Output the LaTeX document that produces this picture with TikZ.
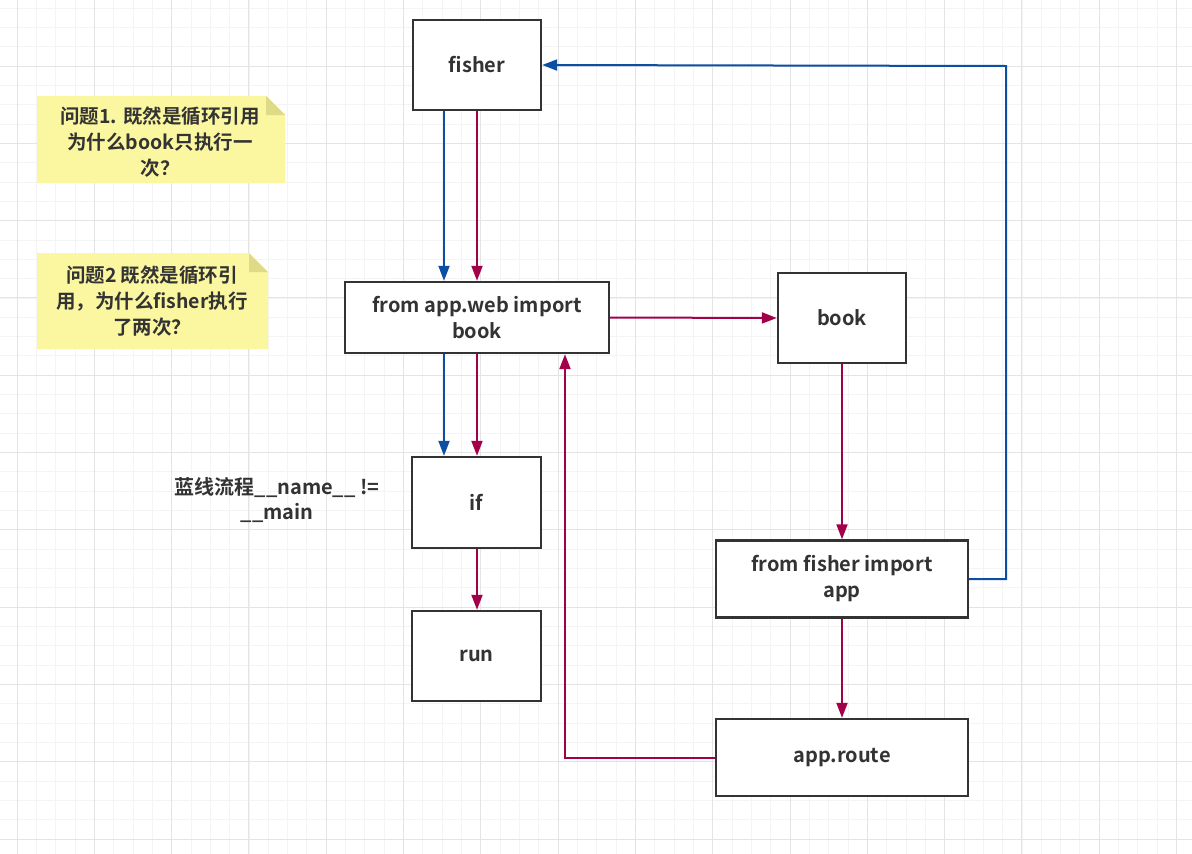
\documentclass[tikz,border=0pt]{standalone}
\usepackage{fontspec}
\setmainfont{Noto Sans CJK SC}[BoldFont={* Bold}]
\usetikzlibrary{arrows.meta}
\definecolor{gridminor}{HTML}{F4F4F4}
\definecolor{gridmajor}{HTML}{E4E4E4}
\definecolor{lineblue}{HTML}{0B4EA2}
\definecolor{linered}{HTML}{A3004A}
\definecolor{notefill}{HTML}{FBF7A0}
\definecolor{notefold}{HTML}{DEDA88}
\definecolor{txt}{HTML}{333333}
\definecolor{boxline}{HTML}{333333}
\tikzset{
  box/.style={draw=boxline, line width=2.4pt, fill=white, inner sep=0pt, align=center,
    text=txt, font=\fontsize{20}{26}\selectfont\bfseries},
  bluearr/.style={draw=lineblue, line width=2pt, -{Triangle[length=15pt,width=11pt]}},
  redarr/.style={draw=linered, line width=2pt, -{Triangle[length=15pt,width=11pt]}},
  notetext/.style={text=txt, align=center, font=\fontsize{19.5}{26}\selectfont\bfseries},
  minorgrid/.style={draw=gridminor, line width=0.8pt},
  majorgrid/.style={draw=gridmajor, line width=1pt}
}
\begin{document}
\begin{tikzpicture}[x=1pt,y=-1pt]
\useasboundingbox (0,0) rectangle (1192,854);
\fill[white] (0,0) rectangle (1192,854);
\begin{scope}
\clip (0,0) rectangle (1192,854);
\foreach \i in {-4,...,62} { \draw[minorgrid] ({17+\i*19.325},0) -- ++(0,854); }
\foreach \j in {-4,...,44} { \draw[minorgrid] (0,{66+\j*19.325}) -- ++(1192,0); }
\foreach \i in {-1,...,15} { \draw[majorgrid] ({17+\i*77.3},0) -- ++(0,854); }
\foreach \j in {-1,...,11} { \draw[majorgrid] (0,{66+\j*77.3}) -- ++(1192,0); }
\end{scope}

% notes
\fill[notefill] (37,96) -- (266,96) -- (285,115) -- (285,183) -- (37,183) -- cycle;
\fill[notefold] (266,96) -- (285,115) -- (266,115) -- cycle;
\node[notetext] (note1) at (160,142) {问题1. 既然是循环引用\\为什么book只执行一\\次？};
\fill[notefill] (37,253) -- (249,253) -- (268,272) -- (268,349) -- (37,349) -- cycle;
\fill[notefold] (249,253) -- (268,272) -- (249,272) -- cycle;
\node[notetext] (note2) at (152,301) {问题2 既然是循环引\\用，为什么fisher执行\\了两次？};

% side label
\node[notetext, font=\fontsize{20}{25}\selectfont\bfseries] (lbl) at (277,500) {蓝线流程\_\_name\_\_ !=\\\_\_main};

% boxes
\node[box, minimum width=128pt, minimum height=90pt] (fisher) at (477,65) {fisher};
\node[box, minimum width=264pt, minimum height=71pt] (web) at (477,317.5) {from app.web import\\book};
\node[box, minimum width=128pt, minimum height=90pt] (book) at (842,318) {book};
\node[box, minimum width=252pt, minimum height=77pt] (fa) at (842,579) {from fisher import\\app};
\node[box, minimum width=129pt, minimum height=91pt] (if) at (476.5,502.5) {if};
\node[box, minimum width=129pt, minimum height=90pt] (run) at (476.5,656) {run};
\node[box, minimum width=252pt, minimum height=77pt] (route) at (842,757.5) {app.route};

% helper coordinates
\coordinate (xb) at (444,0);
\coordinate (xr) at (477,0);
\coordinate (bc) at (1006,66);
\coordinate (rc) at (565,0);

% connectors
\draw[bluearr] (fisher.south -| xb) -- (web.north -| xb);
\draw[redarr] (fisher.south -| xr) -- (web.north -| xr);
\draw[redarr] (web.east) -- (book.west);
\draw[bluearr] (web.south -| xb) -- (if.north -| xb);
\draw[redarr] (web.south -| xr) -- (if.north -| xr);
\draw[redarr] (if.south -| xr) -- (run.north -| xr);
\draw[redarr] (book.south) -- (fa.north);
\draw[redarr] (fa.south) -- (route.north);
\draw[redarr] (route.west) -| (web.south -| rc);
\draw[bluearr] (fa.east) -| (bc) -- (fisher.east);
\end{tikzpicture}
\end{document}
